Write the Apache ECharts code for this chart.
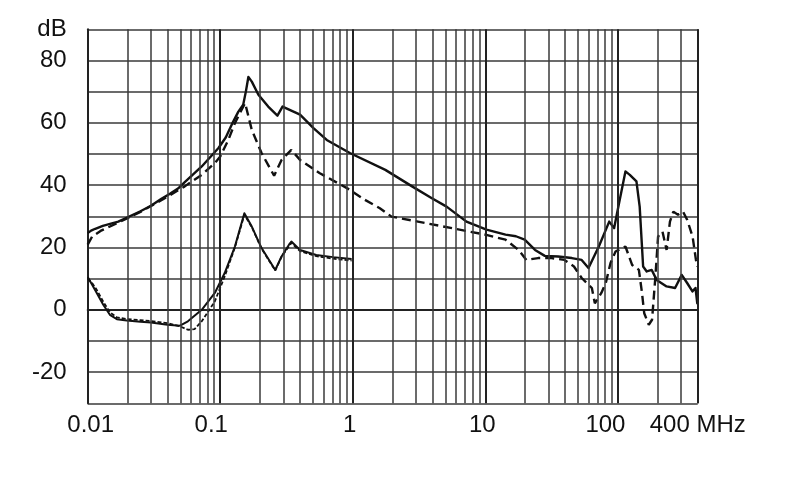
<!DOCTYPE html>
<html>
<head>
<meta charset="utf-8">
<script src="https://cdn.jsdelivr.net/npm/echarts@6/dist/echarts.min.js"></script>
<style>
html,body{margin:0;padding:0;background:#fff;}
#chart{width:790px;height:499px;}
</style>
</head>
<body>
<div id="chart"></div>
<script>
// ---- data (frequency in MHz, level in dB) ----
var upperSolidF  = [0.01,0.0106,0.0114,0.013,0.017,0.02,0.025,0.03,0.036,0.042,0.048,0.054,0.0725,0.097,0.11,0.122,0.137,0.149,0.156,0.163,0.173,0.194,0.23,0.27,0.295,0.4,0.505,0.636,0.95,1.76,2.8,3.95,5.1,7.2,10.2,14.2,17,19.8,23.7,28.1,35.4,44.9,53.3,60,71.8,86,93.6,102,114,123,138,146,155,165,180,196,233,270,303,333,365,385,397,400];
var upperSolidDb = [24.6,25.4,26.0,26.9,28.3,29.7,31.6,33.4,35.6,37.3,38.9,41.0,46.0,51.9,55.3,59.4,63.6,65.8,70.0,74.7,73.2,69.0,65.2,62.3,65.2,62.6,58.3,54.5,50.3,44.9,39.6,35.8,33.1,28.3,25.7,24.1,23.6,22.5,19.2,17.3,17.1,16.6,16.0,13.4,20.3,28.3,26.2,34.2,44.4,43.3,41.2,33.1,13.9,12.3,12.8,9.6,7.5,7.0,11.2,8.6,5.9,7.0,2.1,3.0];

var upperDashF  = [0.01,0.0108,0.0125,0.015,0.02,0.025,0.03,0.04,0.054,0.0725,0.091,0.1,0.115,0.129,0.145,0.154,0.173,0.205,0.255,0.29,0.344,0.4,0.56,0.95,1.23,1.6,1.96,3.1,5.6,10,14.2,17.8,20.4,25,31.6,39.5,46.6,53.3,63.6,67,75,81,88,96,114,128,144,152,158,171,181,191,201,217,233,247,262,284,310,333,366,388,397];
var upperDashDb = [20.9,23.5,25.3,26.9,29.4,31.4,33.3,36.3,39.6,43.3,47.1,49.2,54.5,59.9,64.2,66.3,57.7,50.3,43.0,48.1,51.3,48.1,43.9,38.5,35.3,32.6,29.9,28.3,26.2,24.1,22.5,19.2,16.0,16.6,16.6,16.0,13.9,10.2,7.0,2.1,5.4,8.6,15.0,18.7,20.3,14.4,12.8,5.4,-1.1,-4.8,-3.2,9.6,23.5,25.1,19.2,28.3,31.5,30.5,31.5,28.9,23.5,16.0,13.9];

var lowerSolidF  = [0.01,0.0108,0.0117,0.0131,0.0147,0.0166,0.0197,0.025,0.03,0.04,0.0497,0.057,0.0725,0.091,0.108,0.129,0.152,0.173,0.205,0.26,0.29,0.33,0.344,0.4,0.53,0.71,0.98];
var lowerSolidDb = [10.5,8.0,5.4,1.6,-1.6,-3.0,-3.4,-3.8,-4.1,-4.8,-5.1,-3.7,0.0,5.4,11.8,20.3,31.0,26.7,19.8,12.8,17.1,20.9,21.9,19.2,17.6,16.9,16.3];

var lowerDotF  = [0.01,0.0108,0.0117,0.0131,0.0147,0.0166,0.0197,0.025,0.03,0.04,0.0497,0.057,0.064,0.0725,0.091,0.108,0.129,0.152,0.173,0.205,0.26,0.29,0.344,0.4,0.53,0.71,0.98];
var lowerDotDb = [10.0,8.6,6.4,2.6,-0.8,-2.4,-3.0,-3.3,-3.6,-4.3,-5.3,-6.4,-6.2,-3.7,2.7,10.7,20.0,30.5,26.5,19.6,12.6,17.0,21.5,18.8,17.2,16.4,15.8];

// axis ticks
var xMin = 0.01, xMax = 400;
var yMin = -30, yMax = 90, yStep = 10;
var decades = [0.01, 0.1, 1, 10, 100];
var multipliers = [1,2,3,4,5,6,7,8,9];
var xLabels = {"0.01":"0.01","0.1":"0.1","1":"1","10":"10","100":"100","400":"400 MHz"};

function zip(a, b){ return a.map(function(v,i){ return [v, b[i]]; }); }

var gridLines = [];
decades.forEach(function(d){
  multipliers.forEach(function(m){
    var v = +(d*m).toPrecision(6);
    if (v > xMin && v <= xMax) gridLines.push({xAxis: v, lineStyle:{width: m===1 ? 2 : 1.5, color: m===1 ? '#222' : '#3a3a3a'}});
  });
});
gridLines.push({xAxis: xMax, lineStyle:{width:2, color:'#222'}});

var chart = echarts.init(document.getElementById('chart'), null, {renderer:'canvas'});
var font = 'Liberation Sans, Arial, sans-serif';
var lineColor = '#111';

function xFmt(v){
  var keys = Object.keys(xLabels);
  for (var i=0;i<keys.length;i++){
    var k = +keys[i];
    if (Math.abs(Math.log10(v) - Math.log10(k)) < 1e-3){
      var t = xLabels[keys[i]];
      if (k === 0.01) return '{l|' + t + '}';
      if (k === 0.1) return '{a|' + t + '}';
      if (k === 100) return '{b|' + t + '}';
      if (k === 400) return '{c|' + t + '}';
      return '{s|' + t + '}';
    }
  }
  return '';
}

var richBase = {fontSize:24, color:'#111', fontFamily:font};
function rich(pad){ var o = Object.assign({}, richBase); o.padding = pad; return o; }

chart.setOption({
  animation:false,
  backgroundColor:'#fff',
  grid:{left:87.7, right:92.3, top:29.3, bottom:95.7, containLabel:false},
  xAxis:{
    type:'log', logBase:10, min:xMin, max:xMax,
    axisLine:{show:true, lineStyle:{color:'#222', width:2}},
    axisTick:{show:false},
    splitLine:{show:false},
    minorTick:{show:false},
    axisLabel:{
      show:true, margin:10, formatter:xFmt,
      fontSize:24, color:'#111', fontFamily:font,
      rich:{
        l: rich([0,0,0,6]),
        a: rich([0,18,0,0]),
        b: rich([0,25,0,0]),
        c: rich([0,0,0,0]),
        s: rich([0,6,0,0])
      }
    }
  },
  yAxis:{
    type:'value', min:yMin, max:yMax, interval:yStep,
    axisLine:{show:true, lineStyle:{color:'#222', width:2}},
    axisTick:{show:false},
    splitLine:{show:true, lineStyle:{color:'#3a3a3a', width:1.5}},
    axisLabel:{
      margin:21, fontSize:24, color:'#111', fontFamily:font,
      formatter:function(v){
        if (v === yMax) return 'dB';
        if (v === yMin) return '';
        return (v % 20 === 0) ? String(v) : '';
      }
    }
  },
  series:[
    {
      type:'line', name:'grid', data:[], silent:true,
      markLine:{silent:true, symbol:'none', label:{show:false}, animation:false,
        lineStyle:{type:'solid', color:'#3a3a3a', width:1.5}, data:gridLines}
    },
    {
      type:'line', name:'upperSolid', data:zip(upperSolidF, upperSolidDb),
      showSymbol:false, smooth:false,
      lineStyle:{color:lineColor, width:2.4, type:'solid', join:'round'}
    },
    {
      type:'line', name:'upperDash', data:zip(upperDashF, upperDashDb),
      showSymbol:false, smooth:false,
      lineStyle:{color:lineColor, width:2.4, type:[9,5]}
    },
    {
      type:'line', name:'lowerSolid', data:zip(lowerSolidF, lowerSolidDb),
      showSymbol:false, smooth:false,
      lineStyle:{color:lineColor, width:2, type:'solid', join:'round'}
    },
    {
      type:'line', name:'lowerDot', data:zip(lowerDotF, lowerDotDb),
      showSymbol:false, smooth:false,
      lineStyle:{color:lineColor, width:1.8, type:[4,2]}
    }
  ]
});
</script>
</body>
</html>
